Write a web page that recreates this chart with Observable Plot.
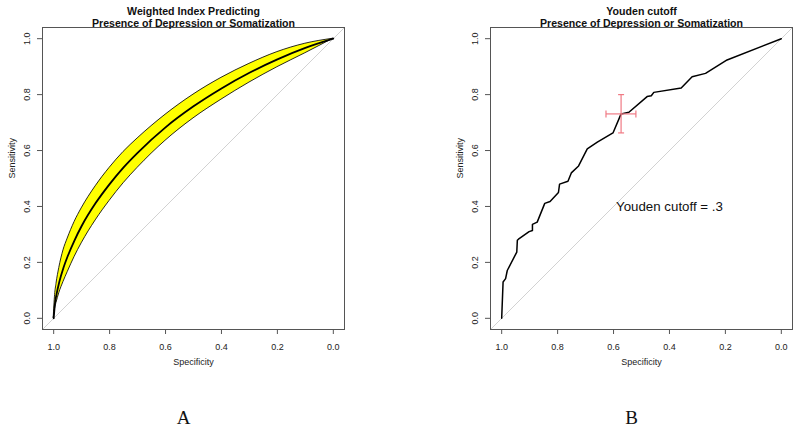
<!DOCTYPE html>
<html><head><meta charset="utf-8">
<script src="https://cdn.jsdelivr.net/npm/d3@7"></script>
<script src="https://cdn.jsdelivr.net/npm/@observablehq/plot@0.6"></script>
<style>
body{margin:0;background:#fff;}
#wrap{display:flex;width:800px;height:430px;overflow:hidden;}
#wrap svg{display:block;flex:none;}
</style></head><body><div id="wrap"></div>
<script>
// ---- data ----
const axisTicks = [0, 0.2, 0.4, 0.6, 0.8, 1.0];
const titleA = ["Weighted Index Predicting", "Presence of Depression or Somatization"];
const titleB = ["Youden cutoff", "Presence of Depression or Somatization"];
const panelLabels = ["A", "B"];

// Panel A: smoothed ROC with CI band (specificity, sensitivity)
const specA      = [1, 0.995, 0.99, 0.98, 0.965, 0.95, 0.925, 0.90, 0.85, 0.80, 0.75, 0.70, 0.60, 0.50, 0.40, 0.30, 0.20, 0.10, 0];
const sensAMid   = [0, 0.056, 0.085, 0.130, 0.181, 0.222, 0.280, 0.330, 0.412, 0.480, 0.540, 0.592, 0.683, 0.758, 0.822, 0.878, 0.926, 0.967, 1];
const sensAUpper = [0, 0.083, 0.123, 0.180, 0.243, 0.285, 0.345, 0.393, 0.472, 0.538, 0.595, 0.643, 0.728, 0.800, 0.860, 0.910, 0.952, 0.982, 1];
const sensALower = [0, 0.035, 0.055, 0.090, 0.130, 0.165, 0.220, 0.268, 0.350, 0.420, 0.483, 0.538, 0.635, 0.715, 0.782, 0.843, 0.898, 0.948, 1];

// Panel B: empirical ROC (specificity, sensitivity)
const specB = [1, 0.995, 0.986, 0.980, 0.946, 0.944, 0.940, 0.902, 0.890, 0.890, 0.873, 0.846, 0.827, 0.797, 0.793,
               0.763, 0.751, 0.725, 0.694, 0.658, 0.602, 0.573, 0.545, 0.480, 0.465, 0.456, 0.358, 0.319, 0.271, 0.194, 0];
const sensB = [0, 0.130, 0.142, 0.171, 0.237, 0.279, 0.283, 0.310, 0.314, 0.336, 0.344, 0.411, 0.418, 0.450, 0.480,
               0.490, 0.520, 0.545, 0.606, 0.630, 0.663, 0.731, 0.737, 0.793, 0.796, 0.808, 0.824, 0.864, 0.876, 0.924, 1];

// Youden point with CI
const youdenSpec = [0.573], youdenSpecLo = [0.520], youdenSpecHi = [0.627];
const youdenSens = [0.731], youdenSensLo = [0.663], youdenSensHi = [0.800];
const youdenText = ["Youden cutoff = .3"];
const youdenTextPos = [{spec: 0.4, sens: 0.4}];

// ---- drawing ----
const font = "'Liberation Sans', Arial, sans-serif";
const fmt = d3.format(".1f");
const xDomain = [1.04, -0.04], yDomain = [-0.04, 1.04];
const diag = xDomain.map(x => ({x, y: 1 - x}));
const boxColor = "#555";

function common(marginLeft, marginRight, titles, label) {
  return {
    width: 400, height: 430,
    marginLeft, marginRight, marginTop: 27, marginBottom: 101,
    x: {domain: xDomain},
    y: {domain: yDomain},
    style: {fontFamily: font, fontSize: "9px", color: "#222", background: "white", overflow: "visible"},
    marks0: [
      Plot.line(diag, {x: "x", y: "y", stroke: "#d2d2d2", strokeWidth: 1, clip: true}),
    ],
    marks1: [
      Plot.frame({stroke: boxColor}),
      Plot.axisX({ticks: axisTicks, tickSize: 5, tickPadding: 9, tickFormat: fmt, label: null, stroke: boxColor, fontSize: 9}),
      Plot.axisY({ticks: axisTicks, tickSize: 5, tickFormat: () => "", label: null, stroke: boxColor}),
      Plot.text(axisTicks, {y: d => d, text: d => fmt(d), frameAnchor: "left", dx: -15, rotate: -90, fontSize: 9, textAnchor: "middle", lineAnchor: "middle"}),
      Plot.text(["Sensitivity"], {frameAnchor: "left", dx: -30, rotate: -90, fontSize: 9, lineAnchor: "middle"}),
      Plot.text(["Specificity"], {frameAnchor: "bottom", dy: 33, fontSize: 9, lineAnchor: "middle"}),
      Plot.text([titles[0]], {frameAnchor: "top", dy: -15.5, fontSize: 10.6, fontWeight: "bold", lineAnchor: "middle", fill: "#111"}),
      Plot.text([titles[1]], {frameAnchor: "top", dy: -3.5, fontSize: 10.6, fontWeight: "bold", lineAnchor: "middle", fill: "#111"}),
      Plot.text([label], {frameAnchor: "bottom", dy: 88, dx: -10, fontSize: 19, fontFamily: "'Liberation Serif', 'Times New Roman', serif", lineAnchor: "middle", fill: "#111"})
    ]
  };
}

// Panel A
const rowsA = specA.map((s, i) => ({spec: s, mid: sensAMid[i], hi: sensAUpper[i], lo: sensALower[i]}))
  .sort((a, b) => a.spec - b.spec);
const cA = common(42, 56, titleA, panelLabels[0]);
const plotA = Plot.plot({
  ...cA,
  marks: [
    ...cA.marks0,
    Plot.areaY(rowsA, {x: "spec", y1: "lo", y2: "hi", fill: "#ffff00", stroke: "#111", strokeWidth: 0.9, curve: "monotone-x"}),
    Plot.line(rowsA, {x: "spec", y: "mid", stroke: "#000", strokeWidth: 1.8, curve: "monotone-x"}),
    ...cA.marks1
  ]
});

// Panel B
const rowsB = specB.map((s, i) => ({spec: s, sens: sensB[i]}));
const youden = youdenSpec.map((s, i) => ({
  spec: s, sens: youdenSens[i],
  specLo: youdenSpecLo[i], specHi: youdenSpecHi[i],
  sensLo: youdenSensLo[i], sensHi: youdenSensHi[i]
}));
const vSeg = {draw(ctx, size) { const r = Math.sqrt(size / Math.PI); ctx.moveTo(0, -r); ctx.lineTo(0, r); }};
const hSeg = {draw(ctx, size) { const r = Math.sqrt(size / Math.PI); ctx.moveTo(-r, 0); ctx.lineTo(r, 0); }};
const ciColor = "#f07a84";
const cB = common(90, 8, titleB, panelLabels[1]);
const plotB = Plot.plot({
  ...cB,
  marks: [
    ...cB.marks0,
    Plot.line(rowsB, {x: "spec", y: "sens", stroke: "#000", strokeWidth: 1.5}),
    Plot.link(youden, {x1: "specLo", x2: "specHi", y1: "sens", y2: "sens", stroke: ciColor, strokeWidth: 1.2}),
    Plot.link(youden, {x1: "spec", x2: "spec", y1: "sensLo", y2: "sensHi", stroke: ciColor, strokeWidth: 1.2}),
    Plot.dot(youden, {x: "specLo", y: "sens", symbol: vSeg, r: 3.5, fill: "none", stroke: ciColor, strokeWidth: 1.2}),
    Plot.dot(youden, {x: "specHi", y: "sens", symbol: vSeg, r: 3.5, fill: "none", stroke: ciColor, strokeWidth: 1.2}),
    Plot.dot(youden, {x: "spec", y: "sensLo", symbol: hSeg, r: 3, fill: "none", stroke: ciColor, strokeWidth: 1.2}),
    Plot.dot(youden, {x: "spec", y: "sensHi", symbol: hSeg, r: 3, fill: "none", stroke: ciColor, strokeWidth: 1.2}),
    Plot.text(youdenTextPos, {x: "spec", y: "sens", text: () => youdenText[0], fontSize: 13.3, lineAnchor: "middle", fill: "#111"}),
    ...cB.marks1
  ]
});

const wrap = document.getElementById("wrap");
wrap.appendChild(plotA);
wrap.appendChild(plotB);
</script></body></html>
